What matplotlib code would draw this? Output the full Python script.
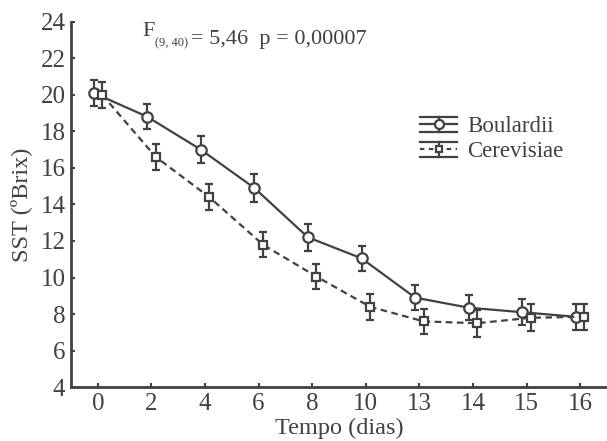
import matplotlib
matplotlib.use("Agg")
import matplotlib.pyplot as plt
import numpy as np
from matplotlib.legend_handler import HandlerBase
from matplotlib.lines import Line2D

plt.rcParams['font.family'] = ['Liberation Serif', 'DejaVu Serif']

days = ['0', '2', '4', '6', '8', '10', '13', '14', '15', '16']
boulardii = [20.1, 18.8, 17.0, 14.9, 12.2, 11.05, 8.9, 8.35, 8.1, 7.85]
boulardii_err = [0.7, 0.7, 0.75, 0.75, 0.75, 0.7, 0.7, 0.7, 0.7, 0.7]
cerevisiae = [20.0, 16.6, 14.4, 11.8, 10.05, 8.4, 7.6, 7.5, 7.8, 7.85]
cerevisiae_err = [0.7, 0.7, 0.7, 0.7, 0.7, 0.7, 0.7, 0.75, 0.75, 0.7]
series_names = ['Boulardii', 'Cerevisiae']

c = '#414141'
LW = 1.6
fig = plt.figure(figsize=(6.07, 4.41), dpi=100)
ax = fig.add_axes([0.117, 0.122, 0.883, 0.829])

x = np.arange(len(days))
ax.errorbar(x - 0.08, boulardii, yerr=boulardii_err, color=c, lw=LW, ls='-',
            marker='o', ms=7.5, mfc='white', mec=c, mew=LW, capsize=3, elinewidth=LW,
            capthick=LW, zorder=3)
ax.errorbar(x + 0.08, cerevisiae, yerr=cerevisiae_err, color=c, lw=LW, ls=(0, (3, 2)),
            marker='s', ms=5.5, mfc='white', mec=c, mew=LW, capsize=3, elinewidth=LW,
            capthick=LW, zorder=3)

ax.set_xlim(-0.5, 9.5)
ax.set_ylim(4, 24)
ax.set_xticks(x)
ax.set_xticklabels(days)
ax.set_yticks(np.arange(4, 25, 2))
ax.tick_params(direction='in', length=3, width=1.5, colors=c, labelsize=18, pad=4)
for s in ['top', 'right']:
    ax.spines[s].set_visible(False)
for s in ['left', 'bottom']:
    ax.spines[s].set_linewidth(2)
    ax.spines[s].set_color(c)

ax.set_xlabel('Tempo (dias)', fontsize=17.5, color=c)
ax.set_ylabel('SST (ºBrix)', fontsize=17.5, color=c)
ax.xaxis.set_label_coords(0.5, -0.085)
ax.yaxis.set_label_coords(-0.072, 0.5)

# annotation with small subscript
t1 = ax.text(0.83, 23.2, 'F', fontsize=16, color=c, va='baseline', ha='left')
t2 = ax.annotate('(9, 40)', xy=(1, 0), xycoords=t1, xytext=(0.5, -3.5),
                 textcoords='offset points', fontsize=9, color=c, va='baseline', ha='left')
ax.annotate('= 5,46  p = 0,00007', xy=(1, 0), xycoords=t2, xytext=(2, 3.5),
            textcoords='offset points', fontsize=16, color=c, va='baseline', ha='left')


class ErrHandler(HandlerBase):
    def __init__(self, ls, marker, ms):
        super().__init__()
        self.ls, self.marker, self.ms = ls, marker, ms

    def create_artists(self, legend, orig_handle, xdescent, ydescent, width, height,
                       fontsize, trans):
        x0, x1 = -xdescent, -xdescent + width
        yc = -ydescent + height / 2
        d = height * 0.47
        xm = (x0 + x1) / 2
        arts = [
            Line2D([x0, x1], [yc + d, yc + d], color=c, lw=LW),
            Line2D([x0, x1], [yc - d, yc - d], color=c, lw=LW),
            Line2D([x0, x1], [yc, yc], color=c, lw=LW, ls=self.ls),
            Line2D([xm, xm], [yc - d, yc + d], color=c, lw=LW),
            Line2D([xm], [yc], marker=self.marker, ms=self.ms, mfc='white', mec=c,
                   mew=LW, ls='none'),
        ]
        for a in arts:
            a.set_transform(trans)
        return arts


h1 = Line2D([], [], color=c)
h2 = Line2D([], [], color=c)
leg = ax.legend([h1, h2], series_names, loc='center left', bbox_to_anchor=(0.652, 0.678),
                frameon=False, fontsize=16.5, handlelength=1.6, handletextpad=0.45,
                labelspacing=0.17, borderaxespad=0, borderpad=0,
                handler_map={h1: ErrHandler('-', 'o', 6.5), h2: ErrHandler((0, (2, 2)), 's', 5)})
for t in leg.get_texts():
    t.set_color(c)

fig.savefig('out.png', dpi=100)
